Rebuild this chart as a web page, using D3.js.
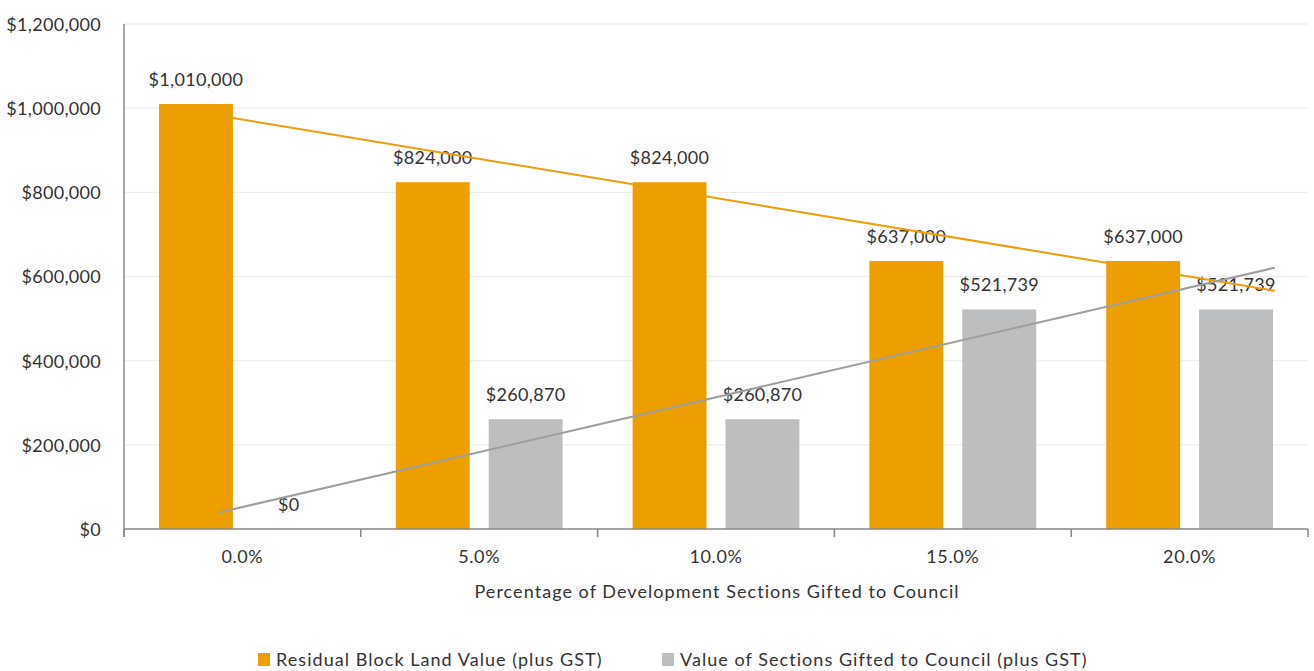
<!DOCTYPE html>
<html>
<head>
<meta charset="utf-8">
<script src="https://cdn.jsdelivr.net/npm/d3@7"></script>
<style>
  html, body { margin: 0; padding: 0; background: #fff; }
  svg text { font-family: Lato, "Noto Sans", sans-serif; fill: #333; }
</style>
</head>
<body>
<svg id="chart" width="1314" height="671"></svg>
<script>
// Categories and series
const categories = ["0.0%", "5.0%", "10.0%", "15.0%", "20.0%"];
const seriesNames = ["Residual Block Land Value (plus GST)", "Value of Sections Gifted to Council (plus GST)"];
const residualValues = [1010000, 824000, 824000, 637000, 637000];
const giftedValues = [0, 260870, 260870, 521739, 521739];
const seriesColors = ["#EE9F00", "#BDBEC0"];
const trendColors = ["#EEA00C", "#9E9E9E"];
// Linear trendline extents, in category index units (1-based)
const trendStart = [0.96, 0.9];
const trendEnd = [5.36, 5.36];
const yTicks = [0, 200000, 400000, 600000, 800000, 1000000, 1200000];
const xTitle = "Percentage of Development Sections Gifted to Council";

const svg = d3.select("#chart");
const plot = { left: 124, right: 1308, top: 24, bottom: 529 };

const y = d3.scaleLinear().domain([0, 1200000]).range([plot.bottom, plot.top]);
const x0 = d3.scaleBand().domain(categories).range([plot.left, plot.right]).padding(0);
const x1 = d3.scaleBand().domain([0, 1]).range([35, x0.bandwidth() - 35]).paddingInner(19 / 93);
const money = v => "$" + d3.format(",")(v);

// Gridlines
svg.append("g")
  .selectAll("line").data(yTicks.slice(1)).join("line")
  .attr("x1", plot.left).attr("x2", plot.right)
  .attr("y1", d => y(d)).attr("y2", d => y(d))
  .attr("stroke", "#EEEEEE").attr("stroke-width", 1.3);

// Y axis labels
const yAxis = svg.append("g").attr("transform", `translate(${plot.left},0)`)
  .call(d3.axisLeft(y).tickValues(yTicks).tickFormat(money).tickSize(0).tickPadding(23));
yAxis.select(".domain").remove();
yAxis.selectAll("text").style("font-size", "18px").style("letter-spacing", "0.3px")
  .attr("fill", "#333").attr("dy", "0.36em");

// Y axis line
svg.append("line")
  .attr("x1", plot.left).attr("x2", plot.left)
  .attr("y1", plot.top).attr("y2", plot.bottom + 8)
  .attr("stroke", "#888").attr("stroke-width", 1.5);

// Bars
const series = [residualValues, giftedValues];
const groups = svg.append("g").selectAll("g").data(categories).join("g")
  .attr("transform", d => `translate(${x0(d)},0)`);
groups.selectAll("rect")
  .data((c, i) => series.map((s, k) => ({ k, v: s[i] })))
  .join("rect")
  .attr("x", d => x1(d.k))
  .attr("width", x1.bandwidth())
  .attr("y", d => y(d.v))
  .attr("height", d => y(0) - y(d.v))
  .attr("fill", d => seriesColors[d.k]);

// X axis line and ticks
const xAxisG = svg.append("g");
xAxisG.append("line")
  .attr("x1", plot.left).attr("x2", plot.right)
  .attr("y1", plot.bottom).attr("y2", plot.bottom)
  .attr("stroke", "#888").attr("stroke-width", 1.5);
const boundaries = categories.map(c => x0(c)).concat([plot.right]);
xAxisG.selectAll("line.tick").data(boundaries).join("line")
  .attr("class", "tick")
  .attr("x1", d => d).attr("x2", d => d)
  .attr("y1", plot.bottom).attr("y2", plot.bottom + 8)
  .attr("stroke", "#888").attr("stroke-width", 1.5);
xAxisG.selectAll("text").data(categories).join("text")
  .attr("x", d => x0(d) + x0.bandwidth() / 2)
  .attr("y", 563)
  .attr("text-anchor", "middle")
  .style("font-size", "18px").style("letter-spacing", "0.6px")
  .text(d => d);

// Axis title
svg.append("text")
  .attr("x", (plot.left + plot.right) / 2 + 1)
  .attr("y", 598)
  .attr("text-anchor", "middle")
  .style("font-size", "18px").style("letter-spacing", "1.05px")
  .text(xTitle);

// Linear trendlines (least squares on category index)
const catX = i => x0(categories[0]) + x0.bandwidth() / 2 + (i - 1) * x0.step();
series.forEach((s, k) => {
  const pts = s.map((v, i) => [i + 1, v]);
  const mx = d3.mean(pts, p => p[0]);
  const my = d3.mean(pts, p => p[1]);
  const slope = d3.sum(pts, p => (p[0] - mx) * (p[1] - my)) / d3.sum(pts, p => (p[0] - mx) ** 2);
  const f = t => my + slope * (t - mx);
  svg.append("line")
    .attr("x1", catX(trendStart[k])).attr("y1", y(f(trendStart[k])))
    .attr("x2", catX(trendEnd[k])).attr("y2", y(f(trendEnd[k])))
    .attr("stroke", trendColors[k]).attr("stroke-width", 2);
});

// Data labels
groups.selectAll("text.lbl")
  .data((c, i) => series.map((s, k) => ({ k, v: s[i] })))
  .join("text")
  .attr("class", "lbl")
  .attr("x", d => x1(d.k) + x1.bandwidth() / 2)
  .attr("y", d => y(d.v) - 18)
  .attr("text-anchor", "middle")
  .style("font-size", "18px").style("letter-spacing", "0.3px")
  .text(d => money(d.v));

// Legend
const legend = svg.append("g");
const legendX = [258, 662];
seriesNames.forEach((name, k) => {
  legend.append("rect")
    .attr("x", legendX[k]).attr("y", 653)
    .attr("width", 12).attr("height", 13)
    .attr("fill", seriesColors[k]);
  legend.append("text")
    .attr("x", legendX[k] + 18).attr("y", 666)
    .style("font-size", "18px").style("letter-spacing", "1.05px")
    .text(name);
});
</script>
</body>
</html>
